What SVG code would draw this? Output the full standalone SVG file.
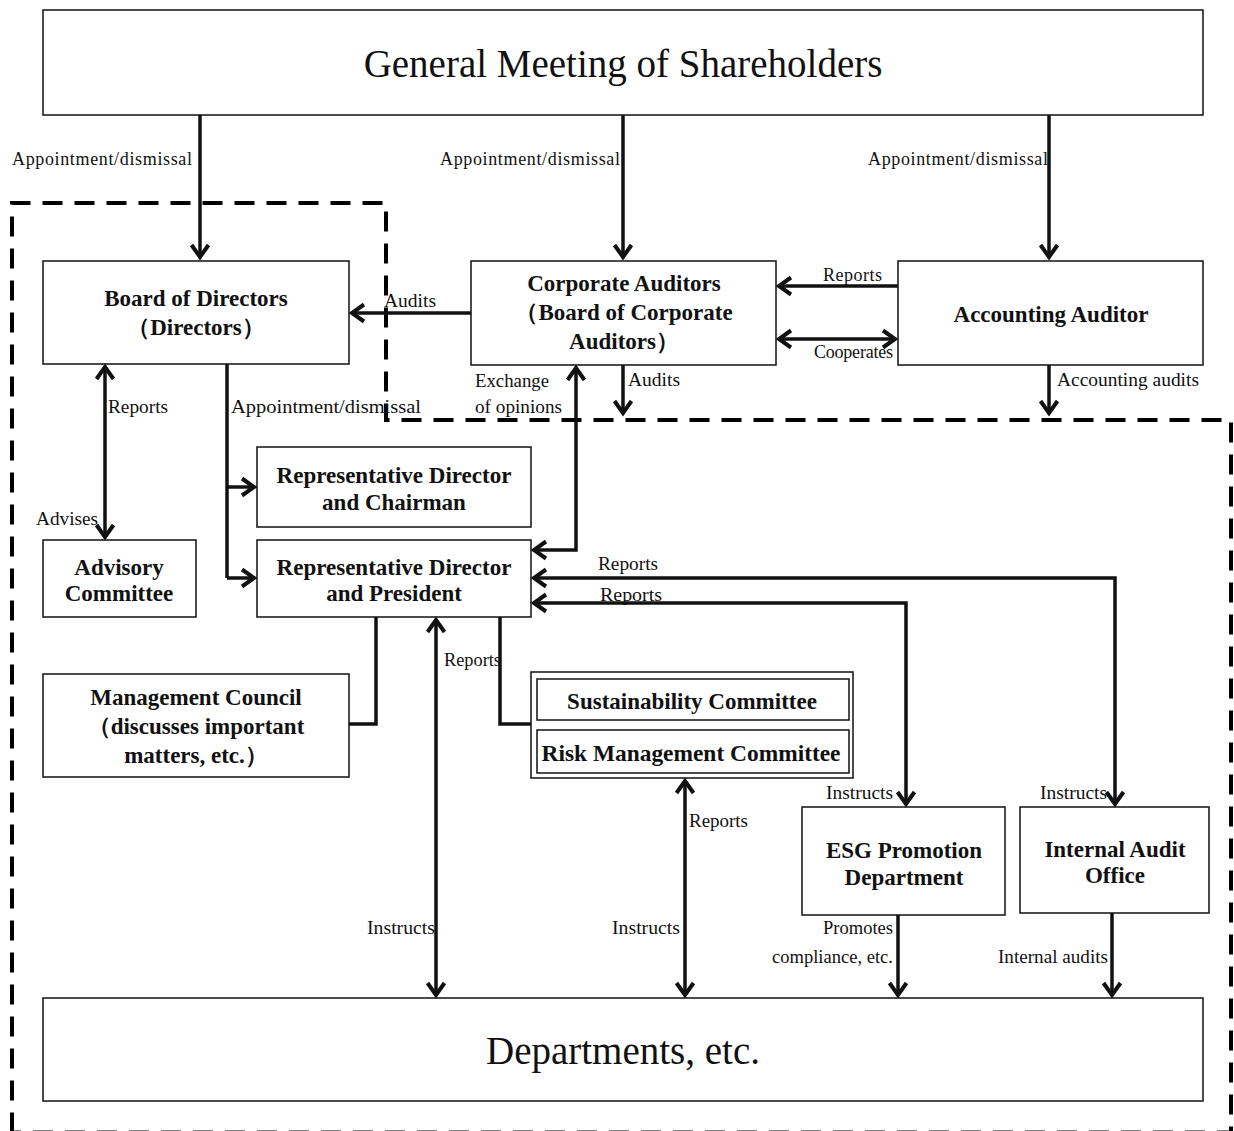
<svg xmlns="http://www.w3.org/2000/svg" width="1234" height="1131" viewBox="0 0 1234 1131">
<style>
.box{fill:#fff;stroke:#111;stroke-width:1.5}
.nt{font-family:"Liberation Serif","Times New Roman",serif;font-weight:bold;font-size:23px;fill:#111;text-anchor:middle}
.big{font-family:"Liberation Serif","Times New Roman",serif;font-size:39px;fill:#111;text-anchor:middle}
.lb{font-family:"Liberation Serif","Times New Roman",serif;font-size:18px;fill:#111}
.ln{fill:none;stroke:#111;stroke-width:3.5}
.ar{marker-end:url(#ah)}
.dar{marker-end:url(#ah);marker-start:url(#ah)}
</style>
<defs>
<marker id="ah" markerUnits="userSpaceOnUse" orient="auto-start-reverse" markerWidth="20" markerHeight="20" refX="0" refY="0" overflow="visible">
<path d="M-13,-8.5 L-1,0 L-13,8.5" fill="none" stroke="#111" stroke-width="4"/>
</marker>
</defs>
<rect width="1234" height="1131" fill="#fff"/>
<path d="M12,1132.5 L12,203 L386,203 L386,420 L1231,420 L1231,1132.5 Z" fill="none" stroke="#000" stroke-width="4" stroke-dasharray="20 12"/>

<g id="gm"><rect class="box" x="43" y="10" width="1160" height="105"/><text class="big" x="623" y="77">General Meeting of Shareholders</text></g>
<g id="bod"><rect class="box" x="43" y="261" width="306" height="103"/><text class="nt" x="196" y="306">Board of Directors</text><text class="nt" x="196" y="335">（Directors）</text></g>
<g id="ca"><rect class="box" x="471" y="261" width="305" height="104"/><text class="nt" x="624" y="291">Corporate  Auditors</text><text class="nt" x="624" y="320">（Board of Corporate</text><text class="nt" x="624" y="349">Auditors）</text></g>
<g id="aa"><rect class="box" x="898" y="261" width="305" height="104"/><text class="nt" x="1051" y="322">Accounting  Auditor</text></g>
<g id="rdc"><rect class="box" x="257" y="447" width="274" height="80"/><text class="nt" x="394" y="483">Representative Director</text><text class="nt" x="394" y="510">and Chairman</text></g>
<g id="rdp"><rect class="box" x="257" y="540" width="274" height="77"/><text class="nt" x="394" y="575">Representative Director</text><text class="nt" x="394" y="601">and President</text></g>
<g id="adv"><rect class="box" x="43" y="540" width="153" height="77"/><text class="nt" x="119" y="575">Advisory</text><text class="nt" x="119" y="601">Committee</text></g>
<g id="mc"><rect class="box" x="43" y="674" width="306" height="103"/><text class="nt" x="196" y="705">Management Council</text><text class="nt" x="196" y="734">（discusses important</text><text class="nt" x="196" y="763">matters, etc.）</text></g>
<g id="com"><rect class="box" x="531" y="672" width="322" height="106"/>
<rect class="box" x="537" y="679" width="312" height="41"/><text class="nt" x="692" y="709">Sustainability  Committee</text>
<rect class="box" x="537" y="730" width="312" height="43"/><text class="nt" x="691" y="761" textLength="299" lengthAdjust="spacingAndGlyphs">Risk Management  Committee</text></g>
<g id="esg"><rect class="box" x="802" y="807" width="203" height="108"/><text class="nt" x="904" y="858">ESG Promotion</text><text class="nt" x="904" y="885">Department</text></g>
<g id="iao"><rect class="box" x="1020" y="807" width="189" height="106"/><text class="nt" x="1115" y="857">Internal  Audit</text><text class="nt" x="1115" y="883">Office</text></g>
<g id="dep"><rect class="box" x="43" y="998" width="1160" height="103"/><text class="big" x="623" y="1064">Departments, etc.</text></g>

<g id="connectors">
<path class="ln ar" d="M200,115 V258"/>
<path class="ln ar" d="M623,115 V258"/>
<path class="ln ar" d="M1049,115 V258"/>
<path class="ln ar" d="M471,313 H351"/>
<path class="ln ar" d="M898,286 H778"/>
<path class="ln dar" d="M778,339 H896"/>
<path class="ln ar" d="M623,365 V414"/>
<path class="ln ar" d="M1049,365 V414"/>
<path class="ln dar" d="M576,367 V550 H533"/>
<path class="ln dar" d="M105,366 V538"/>
<path class="ln" d="M227,364 V578"/>
<path class="ln ar" d="M227,487 H255"/>
<path class="ln ar" d="M227,578 H255"/>
<path class="ln" d="M376,617 V724 H349"/>
<path class="ln" d="M500,617 V724 H531"/>
<path class="ln dar" d="M436,619 V996"/>
<path class="ln dar" d="M685,780 V996"/>
<path class="ln dar" d="M533,578 H1115 V805"/>
<path class="ln dar" d="M533,603 H906 V805"/>
<path class="ln ar" d="M898,915 V996"/>
<path class="ln ar" d="M1112,913 V996"/>
</g>

<g id="labels">
<text class="lb" x="12" y="165" font-size="15" textLength="180" lengthAdjust="spacing">Appointment/dismissal</text>
<text class="lb" x="440" y="165" font-size="15" textLength="180" lengthAdjust="spacing">Appointment/dismissal</text>
<text class="lb" x="868" y="165" font-size="15" textLength="180" lengthAdjust="spacing">Appointment/dismissal</text>
<text class="lb" x="384" y="307" font-size="20" textLength="52" lengthAdjust="spacingAndGlyphs">Audits</text>
<text class="lb" x="823" y="281" font-size="16" textLength="59" lengthAdjust="spacing">Reports</text>
<text class="lb" x="814" y="358" font-size="14" textLength="79" lengthAdjust="spacing">Cooperates</text>
<text class="lb" x="475" y="387" textLength="74" lengthAdjust="spacingAndGlyphs">Exchange</text>
<text class="lb" x="475" y="413" textLength="87" lengthAdjust="spacingAndGlyphs">of opinions</text>
<text class="lb" x="628" y="386" textLength="52" lengthAdjust="spacingAndGlyphs">Audits</text>
<text class="lb" x="1057" y="386" textLength="142" lengthAdjust="spacingAndGlyphs">Accounting audits</text>
<text class="lb" x="108" y="413" textLength="60" lengthAdjust="spacingAndGlyphs">Reports</text>
<text class="lb" x="231" y="413" font-size="19" textLength="190" lengthAdjust="spacingAndGlyphs">Appointment/dismissal</text>
<text class="lb" x="36" y="525" textLength="62" lengthAdjust="spacingAndGlyphs">Advises</text>
<text class="lb" x="598" y="570" textLength="60" lengthAdjust="spacingAndGlyphs">Reports</text>
<text class="lb" x="600" y="601" textLength="62" lengthAdjust="spacingAndGlyphs">Reports</text>
<text class="lb" x="444" y="666" font-size="17" textLength="57" lengthAdjust="spacingAndGlyphs">Reports</text>
<text class="lb" x="689" y="827" textLength="59" lengthAdjust="spacingAndGlyphs">Reports</text>
<text class="lb" x="367" y="934" textLength="68" lengthAdjust="spacingAndGlyphs">Instructs</text>
<text class="lb" x="612" y="934" textLength="68" lengthAdjust="spacingAndGlyphs">Instructs</text>
<text class="lb" x="826" y="799" textLength="67" lengthAdjust="spacingAndGlyphs">Instructs</text>
<text class="lb" x="1040" y="799" textLength="67" lengthAdjust="spacingAndGlyphs">Instructs</text>
<text class="lb" x="823" y="934" textLength="70" lengthAdjust="spacingAndGlyphs">Promotes</text>
<text class="lb" x="772" y="963" textLength="121" lengthAdjust="spacingAndGlyphs">compliance, etc.</text>
<text class="lb" x="998" y="963" textLength="110" lengthAdjust="spacingAndGlyphs">Internal audits</text>
</g>
</svg>
